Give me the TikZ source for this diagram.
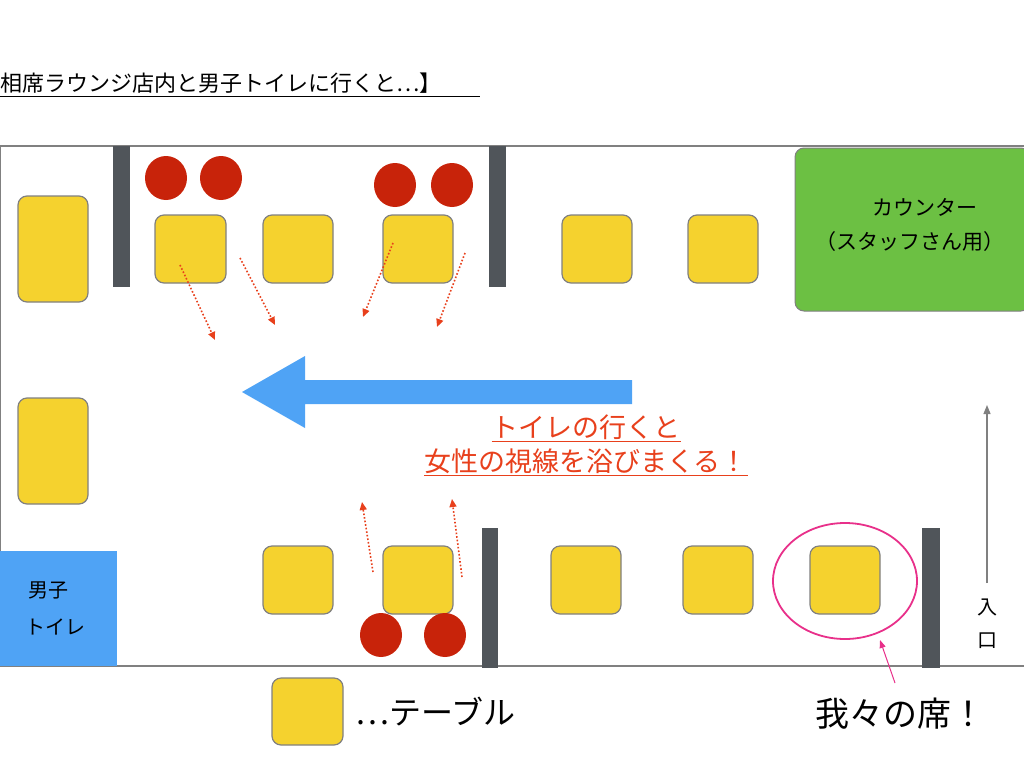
\documentclass[tikz,border=0pt]{standalone}
\usepackage{fontspec}
\setmainfont{Noto Sans CJK JP}
\usetikzlibrary{arrows.meta}
\definecolor{tbl}{HTML}{F5D22E}
\definecolor{seat}{HTML}{C8230A}
\definecolor{wall}{HTML}{50555A}
\definecolor{ctr}{HTML}{6CC043}
\definecolor{blu}{HTML}{4FA3F5}
\definecolor{redt}{HTML}{E8401C}
\definecolor{pink}{HTML}{E8308A}
\tikzset{
 tab/.style={fill=tbl,draw=gray,line width=1.2pt,rounded corners=9pt},
 wallb/.style={fill=wall},
 seatc/.style={fill=seat,draw=none},
 look/.style={draw=redt,dotted,line width=1.6pt,-{Triangle[length=8pt,width=7pt]}},
}
\begin{document}
\begin{tikzpicture}[x=1pt,y=-1pt]
\useasboundingbox (0,0) rectangle (1024,768);
\node[anchor=west,font=\fontsize{22}{24}\selectfont,inner sep=0] (title) at (0,83) {相席ラウンジ店内と男子トイレに行くと…】};
\draw[line width=0.8pt] (0,96) -- (480,96);
\draw[gray,line width=1.5pt] (0,146) -- (1024,146) (0,146) -- (0,666) (0,666) -- (1024,666);
% walls
\fill[wallb] (113,146) rectangle (130,287);
\fill[wallb] (489,146) rectangle (506,287);
\fill[wallb] (482,528) rectangle (498,668);
\fill[wallb] (922,528) rectangle (940,668);
% counter
\draw[fill=ctr,draw=gray,line width=1pt,rounded corners=9pt] (795,148) rectangle (1030,311);
\node[font=\fontsize{21}{24}\selectfont] (c1) at (925,207) {カウンター};
\node[font=\fontsize{21}{24}\selectfont] (c2) at (910,242) {（スタッフさん用）};
% toilet
\fill[blu] (0,551) rectangle (117,666);
\node[font=\fontsize{20}{22}\selectfont] (t1) at (48,590) {男子};
\node[font=\fontsize{20}{22}\selectfont] (t2) at (55,627) {トイレ};
% tables
\foreach \x/\y/\w/\h in {18/196/70/106,18/398/70/106,155/215/71/68,263/215/70/68,383/215/70/68,562/215/70/68,688/215/70/68,263/546/70/68,383/546/70/68,551/546/70/68,683/546/70/68,810/546/70/68,272/678/71/67}
 \draw[tab] (\x,\y) rectangle ++(\w,\h);
% seats
\foreach \x/\y in {166/178,221/178,395/185,452/185,381/635,445/635}
 \fill[seatc] (\x,\y) ellipse (21pt and 22pt);
% blue arrow
\fill[blu] (632,380) -- (305,380) -- (305,356) -- (242,392) -- (305,428) -- (305,404) -- (632,404) -- cycle;
% looks
\coordinate (a1) at (180,265); \coordinate (b1) at (215,340);
\coordinate (a2) at (240,258); \coordinate (b2) at (275,325);
\coordinate (a3) at (393,243); \coordinate (b3) at (363,317);
\coordinate (a4) at (465,253); \coordinate (b4) at (437,327);
\coordinate (a5) at (373,572); \coordinate (b5) at (362,502);
\coordinate (a6) at (462,577); \coordinate (b6) at (452,499);
\foreach \i in {1,...,6} \draw[look] (a\i) -- (b\i);
% red text
\node[text=redt,font=\fontsize{27}{30}\selectfont,inner sep=1pt] (r1) at (586,428) {\underline{トイレの行くと}};
\node[text=redt,font=\fontsize{27}{30}\selectfont,inner sep=1pt] (r2) at (586,462) {\underline{女性の視線を浴びまくる！}};
% entrance
\coordinate (e1) at (987,583); \coordinate (e2) at (987,405);
\draw[gray,line width=1.2pt,-{Triangle[length=9pt,width=7pt]}] (e1) -- (e2);
\node[font=\fontsize{20}{22}\selectfont] (in1) at (987,607) {入};
\node[font=\fontsize{20}{22}\selectfont] (in2) at (987,641) {口};
% our seat
\draw[pink,line width=1.8pt] (845,581) ellipse (72pt and 58pt);
\coordinate (p1) at (895,683); \coordinate (p2) at (880,640);
\draw[pink,line width=1pt,-{Triangle[length=8pt,width=6pt]}] (p1) -- (p2);
\node[anchor=west,font=\fontsize{32}{34}\selectfont] (leg) at (352,712) {…テーブル};
\node[font=\fontsize{34}{36}\selectfont] (ours) at (900,714) {我々の席！};
\end{tikzpicture}
\end{document}
